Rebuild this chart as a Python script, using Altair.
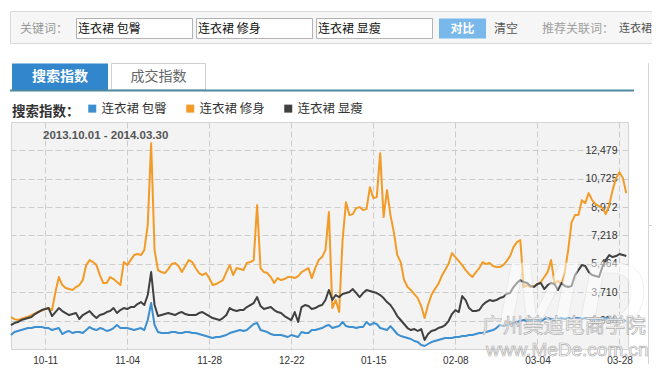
import altair as alt
import pandas as pd

# ---------------- data ----------------
series_names = ["连衣裙 包臀", "连衣裙 修身", "连衣裙 显瘦"]
series_colors = ["#3d8fd0", "#f29b26", "#404040"]

# daily search index, 2013-10-01 (day 0) .. 2014-03-30 (day 180)
baotun = [
    1067, 1252, 1314, 1375, 1437, 1499, 1499, 1561, 1561, 1561,
    1499, 1499, 1375, 1437, 1499, 1128, 1252, 1314, 1190, 1252,
    1252, 1190, 1375, 1561, 1437, 1375, 1499, 1437, 1314, 1375,
    1499, 1684, 1499, 1499, 1499, 1437, 1375, 1437, 1499, 1375,
    1993, 3043, 1684, 1252, 1190, 1190, 1190, 1252, 1252, 1190,
    1190, 1252, 1252, 1190, 1190, 1128, 1067, 1005, 943, 881,
    943, 943, 1005, 1067, 1190, 1252, 1314, 1375, 1314, 1375,
    1561, 1746, 1808, 1375, 1314, 1252, 1128, 1067, 1067, 1067,
    1005, 943, 1067, 1005, 943, 1252, 1190, 1190, 1375, 1375,
    1437, 1499, 1622, 1684, 1499, 1561, 1622, 1870, 1622, 1561,
    1561, 1499, 1561, 1561, 1870, 1684, 1808, 1746, 1499, 1437,
    1375, 1622, 1375, 1128, 1005, 943, 881, 820, 696, 634,
    449, 387, 511, 634, 696, 758, 820, 881, 881, 881,
    943, 943, 1005, 1005, 1067, 1067, 1128, 1190, 1190, 1252,
    1314, 1375, 1499, 1684, 1622, 1684, 1746, 1808, 1870, 1931,
    1993, 1931, 1993, 2055, 1993, 1931, 2055, 2117, 2055, 1993,
    2055, 2117, 2055, 2117, 2055, 2117, 2117, 2055, 2117, 2055,
    1993, 2055, 1993, 2055, 2117, 2117, 2055, 1993, 2055, 1993,
    1931,
]
xiushen = [
    2178, 2050, 1993, 2060, 2130, 2197, 2300, 2400, 2506, 2580,
    2650, 2734, 2611, 3722, 4649, 4155, 3969, 3908, 3846, 4031,
    4155, 4463, 5390, 5699, 5575, 5390, 4772, 4278, 4278, 4649,
    4525, 4340, 4155, 5575, 5390, 5699, 6007, 6069, 6007, 6316,
    7860, 12925, 6316, 5081, 4957, 4896, 5143, 5452, 5514, 5328,
    4957, 5328, 5699, 5575, 5205, 4896, 4772, 4896, 4587, 4155,
    4217, 4340, 4463, 4957, 5390, 4772, 5205, 5143, 5081, 5514,
    5575, 5699, 9095, 5205, 4957, 4896, 4649, 4278, 4587, 4463,
    4525, 4649, 4649, 4587, 4710, 4957, 5081, 5205, 4587, 5205,
    5699, 5884, 6316, 8663, 2734, 3228, 2487, 6934, 9280, 8478,
    8540, 8910, 8972, 8787, 8849, 10207, 9527, 9589, 12307, 8354,
    10022, 8478, 7428, 6007, 5575, 4463, 4031, 3846, 3599, 3352,
    2858, 2117, 2919, 3537, 3908, 4217, 4710, 5081, 5452, 6131,
    5884, 5637, 5390, 5081, 4834, 4649, 4957, 5205, 5575, 5452,
    5514, 5328, 5267, 5267, 5390, 5637, 5946, 6501, 6810, 6934,
    4031, 4155, 4031, 4093, 4217, 4340, 4649, 4957, 5699, 4278,
    4402, 4217, 4957, 6316, 8045, 8478, 8478, 9404, 9218, 9836,
    9404, 9157, 9033, 8910, 8540, 9095, 10022, 10763, 11133, 10763,
    9836,
]
xianshou = [
    1684, 1808, 1870, 1993, 2055, 2117, 2178, 2363, 2487, 2611,
    2672, 2734, 2240, 2487, 2734, 2549, 2425, 2302, 2363, 2425,
    2055, 2302, 2425, 2549, 2302, 2117, 2302, 2363, 2487, 2549,
    2734, 2425, 2611, 2734, 2672, 2796, 2796, 2981, 3105, 2919,
    3537, 4957, 2919, 2240, 2302, 2363, 2425, 2363, 2302, 2425,
    2487, 2363, 2302, 2302, 2302, 2425, 2487, 2363, 2240, 2117,
    2055, 1993, 2117, 2302, 2734, 2611, 2549, 2611, 2611, 2796,
    2919, 3043, 3413, 2858, 2672, 2734, 2796, 2611, 2487, 2425,
    2240, 2117, 1993, 2487, 1870, 2796, 2919, 2858, 2672, 2734,
    2858, 2919, 3228, 3846, 3228, 3537, 3413, 3599, 3660, 3722,
    3908, 3660, 3413, 3660, 3846, 3784, 3722, 3660, 3537, 3352,
    3105, 2919, 2611, 2240, 1993, 1746, 1499, 1375, 1437, 1314,
    1437, 758, 1128, 1314, 1375, 1499, 1561, 1684, 1931, 2363,
    2611, 2487, 3475, 3228, 2734, 2549, 2549, 2611, 2919, 3105,
    3228, 3167, 3228, 3352, 3413, 3599, 3660, 4031, 4278, 4463,
    4340, 4278, 4093, 4031, 4217, 4278, 3908, 4155, 4278, 4217,
    3846, 4278, 4093, 4031, 4093, 4772, 5081, 5390, 5328, 4957,
    4772, 4710, 4649, 5267, 5699, 6007, 5884, 5946, 6069, 6007,
    5946,
]

tick_days = [10, 34, 58, 82, 106, 130, 154, 178]
tick_labels = ["10-11", "11-04", "11-28", "12-22", "01-15", "02-08", "03-04", "03-28"]
y_ticks = [1956, 3710, 5464, 7218, 8972, 10725, 12479]
y_domain = [202, 14233]
date_range = "2013.10.01 - 2014.03.30"

rows = []
for name, vals in zip(series_names, [baotun, xiushen, xianshou]):
    for d, v in enumerate(vals):
        rows.append({"day": d, "series": name, "value": v})
df = pd.DataFrame(rows)

CJK = "Noto Sans CJK SC"
LAT = "Liberation Sans"

OX, OY = 11, 122  # page position of the plot area's top-left corner
one = pd.DataFrame({"k": [0]})


def px(x):
    return alt.value(x - OX)


def py(y):
    return alt.value(y - OY)


def box(x1, y1, x2, y2, fill, stroke=None, sw=1):
    kw = dict(fill=fill, strokeWidth=sw)
    if stroke:
        kw["stroke"] = stroke
    else:
        kw["strokeWidth"] = 0
    return alt.Chart(one).mark_rect(**kw).encode(x=px(x1), x2=px(x2), y=py(y1), y2=py(y2))


def label(x, y, text, size=12, color="#333333", font=CJK, weight="normal", align="left", **extra):
    return alt.Chart(one).mark_text(
        text=text, fontSize=size, color=color, font=font, fontWeight=weight,
        align=align, baseline="middle", **extra
    ).encode(x=px(x), y=py(y))


def vrule(x, y1, y2, color, sw=1):
    return alt.Chart(one).mark_rule(color=color, strokeWidth=sw).encode(x=px(x), y=py(y1), y2=py(y2))


def hrule(x1, x2, y, color, sw=1):
    return alt.Chart(one).mark_rule(color=color, strokeWidth=sw).encode(x=px(x1), x2=px(x2), y=py(y))


chrome = [
    # keyword toolbar
    box(10.5, 11.5, 700, 43.5, "#f6f6f6", "#d9d9d9"),
    label(20, 29, "关键词：", 12, "#999999"),
    box(76.5, 18.5, 192.5, 38.5, "#ffffff", "#b3b3b3"),
    box(196.5, 18.5, 312.5, 38.5, "#ffffff", "#b3b3b3"),
    box(316.5, 18.5, 432.5, 38.5, "#ffffff", "#b3b3b3"),
    label(78, 29, "连衣裙 包臀", 12, "#111111"),
    label(198, 29, "连衣裙 修身", 12, "#111111"),
    label(318, 29, "连衣裙 显瘦", 12, "#111111"),
    box(439, 18.5, 486, 38.5, "#78b8ea"),
    label(462.5, 28.5, "对比", 12, "#ffffff", weight="bold", align="center"),
    label(494, 29, "清空", 12, "#555555"),
    label(542, 29, "推荐关联词：", 12, "#a0a0a0"),
    label(619, 29, "连衣裙", 11, "#555555"),
    # tabs
    box(12, 63.5, 108, 90, "#3287cc"),
    label(60, 77, "搜索指数", 14, "#ffffff", weight="bold", align="center"),
    box(111.5, 63.5, 205.5, 90, "#ffffff", "#cfcfcf"),
    label(158.5, 77, "成交指数", 14, "#666666", align="center"),
    hrule(10, 634, 90.5, "#4b8aa0", 2),
    # right side panel edge
    vrule(648.5, 63, 400, "#d6d6d6"),
    hrule(648.5, 700, 225.5, "#d6d6d6"),
    # date range inside plot
    label(43, 136, date_range, 11.5, "#555555", font=LAT, weight="bold"),
]

label_expr = "[" + ",".join("'%s'" % t for t in tick_labels) + "][indexof([" + \
    ",".join(str(d) for d in tick_days) + "], datum.value)]"

lines = alt.Chart(df).mark_line(strokeWidth=2, strokeJoin="round").encode(
    x=alt.X(
        "day:Q",
        scale=alt.Scale(domain=[0, 180.5], nice=False, zero=False),
        axis=alt.Axis(
            values=tick_days, labelExpr=label_expr, title=None, grid=True,
            gridColor="#cccccc", gridDash=[6, 3], ticks=False, domain=False,
            labelFont=LAT, labelFontSize=10, labelColor="#333333", labelPadding=6,
        ),
    ),
    y=alt.Y(
        "value:Q",
        scale=alt.Scale(domain=y_domain, nice=False, zero=False),
        axis=alt.Axis(
            orient="right", values=y_ticks, labelExpr="format(datum.value, ',')",
            title=None, grid=True,
            gridColor="#cccccc", gridDash=[6, 3], ticks=False, domain=False,
            labelAlign="right", labelBaseline="middle", labelPadding=-11,
            labelFont=LAT, labelFontSize=10.5, labelColor="#333333",
        ),
    ),
    color=alt.Color(
        "series:N",
        sort=series_names,
        scale=alt.Scale(domain=series_names, range=series_colors),
        legend=alt.Legend(
            orient="none", legendX=1, legendY=-20, direction="horizontal",
            title="搜索指数：", titleOrient="left", titleFont=CJK, titleFontSize=13.5,
            titleFontWeight="bold", titleColor="#333333", titlePadding=6,
            symbolType="square", symbolSize=4, symbolStrokeWidth=6,
            symbolOpacity=1,
            labelFont=CJK, labelFontSize=12.5, labelColor="#333333", labelOffset=3,
            columnPadding=10, padding=0,
        ),
    ),
)

watermark = [
    label(572, 300, "MD", 96, "#ffffff", font=LAT, weight="bold", align="center",
          fontStyle="italic", opacity=0.5, stroke="#d8d8d8", strokeWidth=0.6),
    label(482, 327, "广州美迪电商学院", 20.5, "#ffffff", opacity=0.9,
          stroke="#a9a9a9", strokeWidth=0.7),
    label(486, 350, "www.MeDe.com.cn", 19, "#ffffff", font=LAT, opacity=0.9,
          stroke="#a9a9a9", strokeWidth=0.7),
]

chart = alt.layer(*chrome, lines, *watermark).properties(
    width=617,
    height=227,
    autosize=alt.AutoSizeParams(type="none"),
    padding={"left": 3, "top": 114, "right": 24, "bottom": 15},
    background="#ffffff",
).configure_view(fill="#f3f3f3", stroke="#d4d4d4")

chart.save("out.html", embed_options={"renderer": "svg", "actions": False})
